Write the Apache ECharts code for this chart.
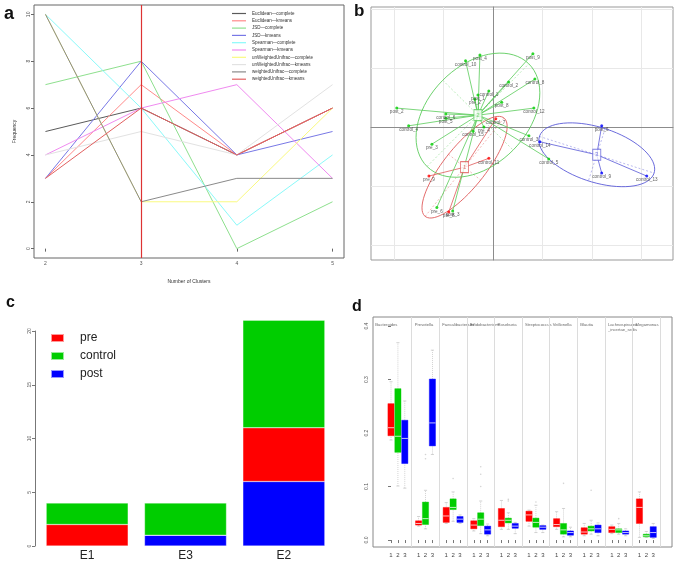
<!DOCTYPE html>
<html>
<head>
<meta charset="utf-8">
<script src="https://cdn.jsdelivr.net/npm/echarts@6/dist/echarts.min.js"></script>
<style>
  html, body { margin: 0; padding: 0; background: #ffffff; }
  #main { width: 675px; height: 566px; }
</style>
</head>
<body>
<div id="main"></div>
<script>
// ---------- panel a: frequency of optimal cluster number ----------
const clusterNums = [2, 3, 4, 5];
const methodNames = [
  "Euclidean—complete", "Euclidean—kmeans", "JSD—complete", "JSD—kmeans",
  "Spearman—complete", "Spearman—kmeans", "unWeightedUnifrac—complete",
  "unWeightedUnifrac—kmeans", "weightedUnifrac—complete", "weightedUnifrac—kmeans"
];
const euclideanComplete = [5, 6, 4, 6];
const euclideanKmeans = [3, 7, 4, 6];
const jsdComplete = [7, 8, 0, 2];
const jsdKmeans = [3, 8, 4, 5];
const spearmanComplete = [10, 6, 1, 4];
const spearmanKmeans = [4, 6, 7, 3];
const unweightedComplete = [10, 2, 2, 6];
const unweightedKmeans = [4, 5, 4, 7];
const weightedComplete = [10, 2, 3, 3];
const weightedKmeans = [3, 6, 4, 6];
const freqTicks = [0, 2, 4, 6, 8, 10];
const chosenK = 3;

// ---------- panel b: between-class analysis (sample, x, y) ----------
const cluster1Pts = [["pre_9", -1.29, -0.83], ["pre_8", -0.89, -1.44], ["control_11", -0.08, -0.53], ["control_7", 0.06, 0.14]];
const cluster2Pts = [
  ["post_9", 0.81, 1.24], ["control_10", -0.55, 1.12], ["post_4", -0.26, 1.22], ["control_2", 0.32, 0.76],
  ["control_8", 0.85, 0.81], ["control_1", -0.08, 0.61], ["post_1", -0.30, 0.54], ["pre_2", -0.36, 0.47],
  ["post_8", 0.18, 0.42], ["control_12", 0.83, 0.32], ["post_2", -1.94, 0.32], ["control_6", -0.95, 0.22],
  ["post_5", -0.95, 0.15], ["control_4", -1.70, 0.02], ["pre_4", -0.18, 0.0], ["control_15", -0.40, -0.07],
  ["control_3", 0.73, -0.15], ["pre_3", -1.23, -0.29], ["control_5", 1.13, -0.54], ["pre_6", -1.13, -1.36],
  ["post_3", -0.81, -1.42]
];
const cluster3Pts = [["post_6", 2.20, 0.02], ["control_14", 0.95, -0.25], ["control_9", 2.20, -0.78], ["control_13", 3.11, -0.83]];
const clusterCenters = [[-0.57, -0.68], [-0.30, 0.20], [2.10, -0.47]];
// ellipse: centre x, centre y, x half-extent, y half-extent, correlation
const clusterEllipses = [[-0.57, -0.68, 0.86, 0.86, 0.80], [-0.30, 0.20, 1.25, 1.05, 0.36], [2.10, -0.47, 1.17, 0.54, -0.45]];
const gridTicksX = [-2, -1, 0, 1, 2, 3];
const gridTicksY = [-2, -1, 0, 1, 2];

// ---------- panel c: enterotype membership ----------
const envs = ["E1", "E3", "E2"];
const preCounts = [2, 0, 5];
const controlCounts = [2, 3, 10];
const postCounts = [0, 1, 6];

// ---------- panel d: genus abundance per group [min, q1, median, q3, max] ----------
const genera = ["Bacteroides", "Prevotella", "Faecalibacterium", "Bifidobacterium", "Roseburia",
  "Streptococcus", "Veillonella", "Blautia", "Lachnospiracea\n_incertae_sedis", "Megamonas"];
const preStats = [
  [0.187, 0.195, 0.210, 0.255, 0.296], [0.026, 0.028, 0.031, 0.036, 0.044], [0.031, 0.033, 0.045, 0.061, 0.070],
  [0.017, 0.021, 0.028, 0.036, 0.040], [0.020, 0.025, 0.037, 0.059, 0.074], [0.026, 0.035, 0.047, 0.054, 0.056],
  [0.020, 0.025, 0.029, 0.040, 0.053], [0.008, 0.011, 0.015, 0.023, 0.031], [0.012, 0.014, 0.020, 0.025, 0.028],
  [0.005, 0.031, 0.061, 0.077, 0.090]
];
const controlStats = [
  [0.101, 0.164, 0.194, 0.283, 0.369], [0.021, 0.029, 0.040, 0.071, 0.093], [0.035, 0.057, 0.061, 0.077, 0.090],
  [0.012, 0.027, 0.039, 0.051, 0.073], [0.020, 0.032, 0.037, 0.041, 0.051], [0.014, 0.024, 0.033, 0.041, 0.065],
  [0.006, 0.011, 0.019, 0.031, 0.059], [0.011, 0.017, 0.021, 0.026, 0.037], [0.011, 0.014, 0.019, 0.021, 0.031],
  [0.005, 0.006, 0.008, 0.011, 0.016]
];
const postStats = [
  [0.097, 0.143, 0.190, 0.224, 0.260], [0.160, 0.176, 0.219, 0.301, 0.355], [0.031, 0.033, 0.039, 0.044, 0.047],
  [0.008, 0.011, 0.019, 0.026, 0.030], [0.012, 0.022, 0.026, 0.031, 0.033], [0.014, 0.020, 0.024, 0.027, 0.028],
  [0.006, 0.009, 0.014, 0.017, 0.024], [0.008, 0.014, 0.021, 0.028, 0.032], [0.008, 0.011, 0.014, 0.017, 0.021],
  [0.003, 0.005, 0.014, 0.025, 0.031]
];
// [genus index, group index, value]
const outliers = [[1, 1, 0.160], [1, 1, 0.152], [2, 1, 0.115], [3, 1, 0.137], [3, 1, 0.123], [3, 1, 0.100],
  [4, 1, 0.076], [4, 1, 0.073], [5, 1, 0.071], [6, 1, 0.106], [7, 1, 0.093], [8, 1, 0.040]];
const abundTicks = [0, 0.1, 0.2, 0.3, 0.4];

const FONT = "Liberation Sans";
const methodColors = ["#5a5a5a", "#ff8a8a", "#8ee08e", "#7878e6", "#8afafa", "#f08af0",
  "#fafa80", "#e2e2e2", "#8a8a8a", "#e26060"];
const groupColors = ["#ff0000", "#00cd00", "#0000ff"];
const clusterColors = ["#e05a5a", "#5ccc5c", "#5a5ad8"];

let myChart = echarts.init(document.getElementById("main"));
let series = [];

// panel a lines
const methodData = [euclideanComplete, euclideanKmeans, jsdComplete, jsdKmeans, spearmanComplete,
  spearmanKmeans, unweightedComplete, unweightedKmeans, weightedComplete, weightedKmeans];
methodNames.forEach(function (name, i) {
  series.push({
    name: name, type: "line", xAxisIndex: 0, yAxisIndex: 0, symbol: "none",
    data: clusterNums.map(function (c, j) { return [c, methodData[i][j]]; }),
    lineStyle: { width: 1, color: methodColors[i] },
    itemStyle: { color: methodColors[i] },
    emphasis: { disabled: true }
  });
});
series[0].markLine = {
  silent: true, symbol: ["none", "none"], label: { show: false },
  lineStyle: { color: "#dd3333", width: 1.2, type: "solid", opacity: 1 },
  data: [{ xAxis: chosenK }], z: 10
};

// panel b
const clusterPts = [cluster1Pts, cluster2Pts, cluster3Pts];
series.push({
  type: "custom", xAxisIndex: 1, yAxisIndex: 1, silent: true,
  data: clusterEllipses.map(function (e, i) { return e.concat([i]); }),
  renderItem: function (params, api) {
    const cx = api.value(0), cy = api.value(1), rx = api.value(2), ry = api.value(3), rho = api.value(4);
    const col = clusterColors[api.value(5)];
    const s = Math.sqrt(1 - rho * rho);
    let pts = [];
    for (let t = 0; t <= 72; t++) {
      const a = t / 72 * Math.PI * 2;
      pts.push(api.coord([cx + rx * Math.cos(a), cy + ry * (rho * Math.cos(a) + s * Math.sin(a))]));
    }
    // principal axes in pixel space
    const c = api.coord([cx, cy]);
    const sz = api.size([rx, ry]);
    const Rx = sz[0], Ry = sz[1];
    const sxx = Rx * Rx, syy = Ry * Ry, sxy = -rho * Rx * Ry;
    const ang = 0.5 * Math.atan2(2 * sxy, sxx - syy);
    const m = (sxx + syy) / 2, d = Math.sqrt(Math.pow((sxx - syy) / 2, 2) + sxy * sxy);
    const l1 = Math.sqrt(m + d), l2 = Math.sqrt(Math.max(m - d, 0));
    const ca = Math.cos(ang), sa = Math.sin(ang);
    const dash = { stroke: col, lineWidth: 0.6, lineDash: [2, 2], opacity: 0.7 };
    return {
      type: "group", children: [
        { type: "polyline", shape: { points: pts }, style: { stroke: col, fill: null, lineWidth: 0.9 } },
        { type: "line", shape: { x1: c[0] - l1 * ca, y1: c[1] - l1 * sa, x2: c[0] + l1 * ca, y2: c[1] + l1 * sa }, style: dash },
        { type: "line", shape: { x1: c[0] + l2 * sa, y1: c[1] - l2 * ca, x2: c[0] - l2 * sa, y2: c[1] + l2 * ca }, style: dash }
      ]
    };
  }
});
clusterPts.forEach(function (pts, i) {
  series.push({
    type: "lines", coordinateSystem: "cartesian2d", xAxisIndex: 1, yAxisIndex: 1, silent: true,
    lineStyle: { color: clusterColors[i], width: 0.9, opacity: 0.9 },
    data: pts.map(function (p) { return { coords: [clusterCenters[i], [p[1], p[2]]] }; })
  });
  series.push({
    type: "scatter", xAxisIndex: 1, yAxisIndex: 1, symbolSize: 3, silent: true,
    itemStyle: { color: groupColors[i] },
    label: {
      show: true, position: "bottom", distance: 0, fontSize: 4.6, fontFamily: FONT, color: "#333",
      formatter: function (p) { return p.data[2]; }
    },
    data: pts.map(function (p) { return [p[1], p[2], p[0]]; }),
    z: 4
  });
});
series.push({
  type: "scatter", xAxisIndex: 1, yAxisIndex: 1, symbol: "rect", symbolSize: [8, 11], silent: true,
  data: clusterCenters.map(function (c, i) {
    return {
      value: c,
      itemStyle: { color: "#ffffff", borderColor: clusterColors[i], borderWidth: 1 },
      label: { show: true, position: "inside", formatter: String(i + 1), color: clusterColors[i], fontSize: 6, fontFamily: FONT }
    };
  }),
  z: 6
});

// panel c stacked bars
[["post", postCounts, groupColors[2]], ["pre", preCounts, groupColors[0]], ["control", controlCounts, groupColors[1]]]
  .forEach(function (s) {
    series.push({
      name: s[0], type: "bar", stack: "env", xAxisIndex: 2, yAxisIndex: 2, barWidth: 82, clip: false,
      data: s[1], itemStyle: { color: s[2], borderColor: "rgba(255,255,255,0.6)", borderWidth: 0.5 },
      emphasis: { disabled: true }
    });
  });

// panel d boxplots
const groupStats = [preStats, controlStats, postStats];
let boxData = [];
genera.forEach(function (g, k) {
  for (let j = 0; j < 3; j++) {
    boxData.push([4 * k + j].concat(groupStats[j][k]).concat([j]));
  }
});
series.push({
  type: "custom", xAxisIndex: 3, yAxisIndex: 3, silent: true, data: boxData,
  encode: { x: 0, y: [1, 2, 3, 4, 5] },
  renderItem: function (params, api) {
    const x = api.value(0);
    const lo = api.coord([x, api.value(1)]), q1 = api.coord([x, api.value(2)]), md = api.coord([x, api.value(3)]);
    const q3 = api.coord([x, api.value(4)]), hi = api.coord([x, api.value(5)]);
    const w = api.size([0.9, 0])[0];
    const col = groupColors[api.value(6)];
    const wh = { stroke: "#c8c8c8", lineWidth: 0.8, lineDash: [1, 1] };
    const cap = { stroke: "#c8c8c8", lineWidth: 0.8 };
    return {
      type: "group", children: [
        { type: "line", shape: { x1: lo[0], y1: lo[1], x2: q1[0], y2: q1[1] }, style: wh },
        { type: "line", shape: { x1: q3[0], y1: q3[1], x2: hi[0], y2: hi[1] }, style: wh },
        { type: "line", shape: { x1: lo[0] - w * 0.25, y1: lo[1], x2: lo[0] + w * 0.25, y2: lo[1] }, style: cap },
        { type: "line", shape: { x1: hi[0] - w * 0.25, y1: hi[1], x2: hi[0] + w * 0.25, y2: hi[1] }, style: cap },
        { type: "rect", shape: { x: q3[0] - w / 2, y: q3[1], width: w, height: Math.max(q1[1] - q3[1], 1) }, style: { fill: col, stroke: col, lineWidth: 0.4 } },
        { type: "line", shape: { x1: md[0] - w / 2, y1: md[1], x2: md[0] + w / 2, y2: md[1] }, style: { stroke: "rgba(255,255,255,0.75)", lineWidth: 1 } }
      ]
    };
  }
});
series.push({
  type: "scatter", xAxisIndex: 3, yAxisIndex: 3, symbol: "circle", symbolSize: 1.6, silent: true,
  itemStyle: { color: "#c8c8c8" },
  data: outliers.map(function (o) { return [4 * o[0] + o[1], o[2]]; }),
  markLine: {
    silent: true, symbol: ["none", "none"], label: { show: false },
    lineStyle: { color: "#dcdcdc", width: 1, type: "solid" },
    data: genera.map(function (g, k) { return { xAxis: 4 * k + 3 }; })
  }
});
series.push({
  type: "scatter", xAxisIndex: 3, yAxisIndex: 3, symbolSize: 1, silent: true,
  itemStyle: { color: "rgba(0,0,0,0)" },
  label: {
    show: true, position: [0, 0], align: "left", verticalAlign: "top", fontSize: 4.2, lineHeight: 5.5,
    fontFamily: FONT, color: "#444", formatter: function (p) { return p.data[2]; }
  },
  data: genera.map(function (g, k) { return [k === 0 ? -2.2 : 4 * k - 0.5, 0.407, g]; })
});

let boxTickPos = [];
genera.forEach(function (g, k) { boxTickPos.push(4 * k, 4 * k + 1, 4 * k + 2); });

const tinyLabel = { fontSize: 5, fontFamily: FONT, color: "#555" };

let options = {
  backgroundColor: "#ffffff",
  animation: false,
  textStyle: { fontFamily: FONT },
  grid: [
    { left: 34, top: 5, width: 310, height: 253, show: true, borderColor: "#666", borderWidth: 1 },
    { left: 371, top: 7, width: 302, height: 253, show: true, borderColor: "#999", borderWidth: 1 },
    { left: 38, top: 331, width: 295, height: 215 },
    { left: 373, top: 317, width: 299, height: 230, show: true, borderColor: "#888", borderWidth: 1 }
  ],
  xAxis: [
    {
      gridIndex: 0, type: "value", min: 1.88, max: 5.12,
      name: "Number of Clusters", nameLocation: "middle", nameGap: 21,
      nameTextStyle: { fontSize: 5, fontFamily: FONT, color: "#333" },
      axisLine: { show: false },
      axisTick: { show: true, length: 3, customValues: clusterNums, lineStyle: { color: "#666" } },
      axisLabel: Object.assign({ customValues: clusterNums, margin: 3 }, tinyLabel),
      splitLine: { show: false }
    },
    {
      gridIndex: 1, type: "value", min: -2.46, max: 3.64,
      axisLine: { show: true, onZero: true, lineStyle: { color: "#8c8c8c", width: 1 } },
      axisTick: { show: false, customValues: gridTicksX },
      axisLabel: { show: false, customValues: gridTicksX },
      splitLine: { show: true, lineStyle: { color: "#e8e8e8", width: 1 } }
    },
    {
      gridIndex: 2, type: "category", data: envs,
      axisLine: { show: false }, axisTick: { show: false },
      axisLabel: { fontSize: 12, fontFamily: FONT, color: "#222", margin: 4 }
    },
    {
      gridIndex: 3, type: "value", min: -2.61, max: 40.72,
      axisLine: { show: false },
      axisTick: { show: true, length: 3, customValues: boxTickPos, lineStyle: { color: "#777" } },
      axisLabel: {
        customValues: boxTickPos, fontSize: 6, fontFamily: FONT, color: "#444", margin: 5,
        formatter: function (v) { return String(Math.round(v) % 4 + 1); }
      },
      splitLine: { show: false }
    }
  ],
  yAxis: [
    {
      gridIndex: 0, type: "value", min: -0.4, max: 10.4,
      name: "Frequency", nameLocation: "middle", nameGap: 17, nameRotate: 90,
      nameTextStyle: { fontSize: 5, fontFamily: FONT, color: "#333" },
      axisLine: { show: false },
      axisTick: { show: true, length: 3, customValues: freqTicks, lineStyle: { color: "#666" } },
      axisLabel: Object.assign({ customValues: freqTicks, rotate: 90, margin: 3 }, tinyLabel),
      splitLine: { show: false }
    },
    {
      gridIndex: 1, type: "value", min: -2.25, max: 2.03,
      axisLine: { show: true, onZero: true, lineStyle: { color: "#8c8c8c", width: 1 } },
      axisTick: { show: false, customValues: gridTicksY },
      axisLabel: { show: false, customValues: gridTicksY },
      splitLine: { show: true, lineStyle: { color: "#e8e8e8", width: 1 } }
    },
    {
      gridIndex: 2, type: "value", min: 0, max: 20, interval: 5, offset: 3,
      axisLine: { show: true, lineStyle: { color: "#777" } },
      axisTick: { show: true, length: 3, lineStyle: { color: "#777" } },
      axisLabel: Object.assign({ rotate: 90, margin: 3 }, tinyLabel),
      splitLine: { show: false }
    },
    {
      gridIndex: 3, type: "value", min: -0.013, max: 0.417,
      axisLine: { show: false },
      axisTick: { show: true, length: 3, customValues: abundTicks, lineStyle: { color: "#777" } },
      axisLabel: Object.assign({
        customValues: abundTicks, rotate: 90, margin: 4,
        formatter: function (v) { return v.toFixed(1); }
      }, tinyLabel),
      splitLine: { show: false }
    }
  ],
  legend: [
    {
      data: methodNames, orient: "vertical", left: 232, top: 11, padding: 0,
      icon: "rect", itemWidth: 14, itemHeight: 1.2, itemGap: 2.3, selectedMode: false,
      textStyle: { fontSize: 4.5, lineHeight: 5, fontFamily: FONT, color: "#333", padding: [0, 0, 0, 1] }
    },
    {
      data: ["pre", "control", "post"], orient: "vertical", left: 50, top: 331, padding: 0,
      icon: "rect", itemWidth: 13, itemHeight: 8, itemGap: 4, selectedMode: false,
      textStyle: { fontSize: 12, lineHeight: 14, fontFamily: FONT, color: "#222", padding: [0, 0, 0, 11] }
    }
  ],
  graphic: [
    { type: "text", left: 4, top: 5, style: { text: "a", font: "bold 18px " + FONT, fill: "#111" } },
    { type: "text", left: 354, top: 3, style: { text: "b", font: "bold 17px " + FONT, fill: "#111" } },
    { type: "text", left: 6, top: 295, style: { text: "c", font: "bold 16px " + FONT, fill: "#111" } },
    { type: "text", left: 352, top: 299, style: { text: "d", font: "bold 16px " + FONT, fill: "#111" } }
  ],
  series: series
};
myChart.setOption(options);
</script>
</body>
</html>
